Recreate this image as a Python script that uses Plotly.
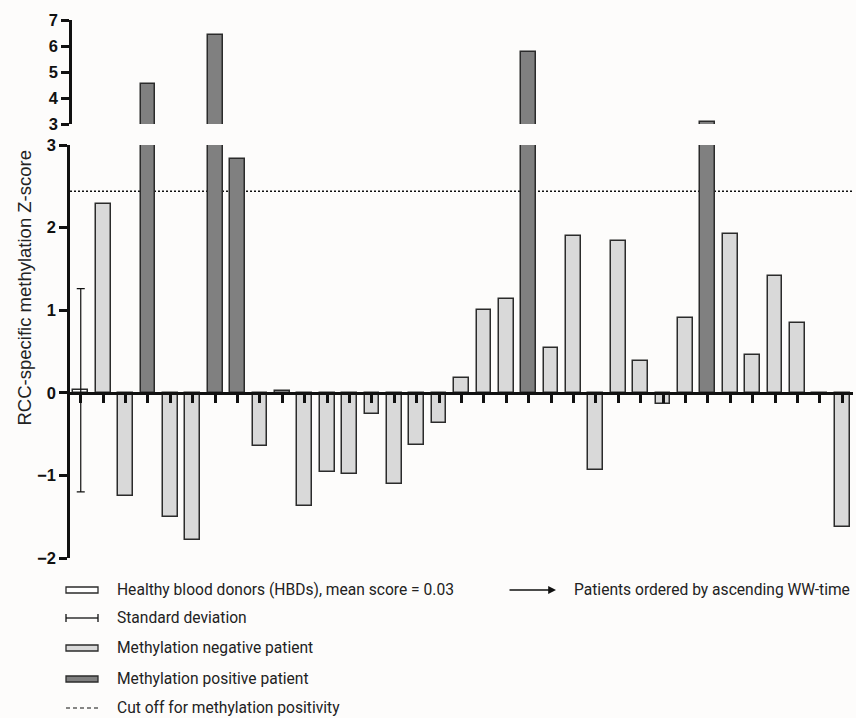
import plotly.graph_objects as go

# ---------------- data ----------------
hbd_mean = [0.03]
hbd_sd = [1.23]
patient_scores = [
    2.28, -1.25, 4.53, -1.50, -1.78, 6.42, 2.83, -0.64, 0.02, -1.37,
    -0.96, -0.98, -0.26, -1.10, -0.63, -0.37, 0.18, 1.00, 1.13, 5.78,
    0.54, 1.90, -0.94, 1.84, 0.38, -0.13, 0.90, 3.09, 1.92, 0.46,
    1.41, 0.85, -0.03, -1.62,
]
cutoff = 2.44
lower_ticks = [-2, -1, 0, 1, 2, 3]
lower_ticktext = ["\u22122", "\u22121", "0", "1", "2", "3"]
upper_ticks = [3, 4, 5, 6, 7]

# ---------------- styling / layout ----------------
W, H = 856, 718
ML, MR, MT, MB = 70, 3, 20, 160
PW, PH = W - ML - MR, H - MT - MB

def px_x(px):
    return (px - ML) / PW

def px_y(py):
    return (H - MB - py) / PH

LIGHT = "#d9d9d9"
DARK = "#808080"
EDGE = "#2b2b2b"
BG = "#fdfcfb"

lower_dom = [0, px_y(145)]
upper_dom = [px_y(124), 1]
lower_range = [-2, 3]
upper_range = [3, 7]

n_pat = len(patient_scores)
x_hbd = [0]
x_pat = list(range(1, n_pat + 1))
pat_colors = [DARK if v > cutoff else LIGHT for v in patient_scores]

bar_w = 0.66
fig = go.Figure()

for yax in ["y", "y2"]:
    fig.add_trace(go.Bar(
        x=x_pat, y=patient_scores, width=bar_w, yaxis=yax,
        marker=dict(color=pat_colors, line=dict(color=EDGE, width=1.5)),
        showlegend=False, hoverinfo="y",
    ))

fig.add_trace(go.Bar(
    x=x_hbd, y=hbd_mean, width=bar_w, yaxis="y",
    marker=dict(color="#ffffff", line=dict(color=EDGE, width=1.5)),
    error_y=dict(type="data", array=hbd_sd, symmetric=True,
                 color="#111111", thickness=1.2, width=4),
    showlegend=False, hoverinfo="y",
))

# zero-line x axis sits at y = 0 of the lower panel
zero_pos = lower_dom[0] + (lower_dom[1] - lower_dom[0]) * (0 - lower_range[0]) / (lower_range[1] - lower_range[0])

tickfont = dict(family="Liberation Sans, Arial", size=16.5, color="#111111", weight="bold")

fig.update_layout(
    width=W, height=H,
    margin=dict(l=ML, r=MR, t=MT, b=MB, pad=0),
    paper_bgcolor=BG, plot_bgcolor=BG,
    bargap=0,
    showlegend=False,
    xaxis=dict(
        range=[-0.48, n_pat + 0.48], domain=[0, 1],
        anchor="free", position=zero_pos,
        showline=True, linecolor="#111111", linewidth=2.5,
        ticks="outside", ticklen=8, tickwidth=2.5, tickcolor="#111111",
        tick0=0, dtick=1, showticklabels=False, showgrid=False, zeroline=False,
        automargin=False,
    ),
    yaxis=dict(
        domain=lower_dom, range=lower_range, anchor="x",
        tickvals=lower_ticks, ticktext=lower_ticktext,
        showline=True, linecolor="#111111", linewidth=2.5,
        ticks="outside", ticklen=8, tickwidth=2.5, tickcolor="#111111",
        tickfont=tickfont, showgrid=False, zeroline=False, automargin=False,
    ),
    yaxis2=dict(
        domain=upper_dom, range=upper_range, anchor="free", position=0,
        tickvals=upper_ticks,
        showline=True, linecolor="#111111", linewidth=2.5,
        ticks="outside", ticklen=8, tickwidth=2.5, tickcolor="#111111",
        tickfont=tickfont, showgrid=False, zeroline=False, automargin=False,
    ),
)

# cutoff line (dotted)
fig.add_shape(type="line", xref="paper", yref="y", x0=0, x1=1, y0=cutoff, y1=cutoff,
              line=dict(color="#111111", width=1.3, dash="2px,2px"), layer="below")

# y-axis title
fig.add_annotation(
    text="RCC-specific methylation Z-score", textangle=-90,
    xref="paper", yref="paper", x=px_x(23.5), y=px_y(288),
    showarrow=False, xanchor="center", yanchor="middle",
    font=dict(family="Liberation Sans, Arial", size=18.5, color="#222222"),
)

# ---------------- custom legend ----------------
LF = dict(family="Roboto, Liberation Sans", size=15.6, color="#222222")
ix0, ix1, tx = 66, 98, 115
rows = [
    ("Healthy blood donors (HBDs), mean score = 0.03", 590, "rect_white"),
    ("Standard deviation", 618, "sd"),
    ("Methylation negative patient", 648, "rect_light"),
    ("Methylation positive patient", 679, "rect_dark"),
    ("Cut off for methylation positivity", 708, "dash"),
]
for text, yc, kind in rows:
    fig.add_annotation(text=text, xref="paper", yref="paper", x=px_x(tx), y=px_y(yc),
                       xanchor="left", yanchor="middle", showarrow=False, font=LF)
    if kind.startswith("rect"):
        fill = {"rect_white": "#ffffff", "rect_light": LIGHT, "rect_dark": DARK}[kind]
        fig.add_shape(type="rect", xref="paper", yref="paper",
                      x0=px_x(ix0), x1=px_x(ix1), y0=px_y(yc + 3), y1=px_y(yc - 3),
                      fillcolor=fill, line=dict(color=EDGE, width=1.3))
    elif kind == "sd":
        fig.add_shape(type="line", xref="paper", yref="paper",
                      x0=px_x(ix0), x1=px_x(ix1), y0=px_y(yc), y1=px_y(yc),
                      line=dict(color="#111111", width=1.3))
        for xe in (ix0, ix1):
            fig.add_shape(type="line", xref="paper", yref="paper",
                          x0=px_x(xe), x1=px_x(xe), y0=px_y(yc - 4), y1=px_y(yc + 4),
                          line=dict(color="#111111", width=1.3))
    else:
        fig.add_shape(type="line", xref="paper", yref="paper",
                      x0=px_x(ix0), x1=px_x(ix1), y0=px_y(yc), y1=px_y(yc),
                      line=dict(color="#111111", width=1.2, dash="4px,3px"))

# arrow legend entry
fig.add_annotation(text="", xref="paper", yref="paper", x=px_x(556), y=px_y(590),
                   ax=-48, ay=0, axref="pixel", ayref="pixel",
                   showarrow=True, arrowhead=2, arrowsize=1.2, arrowwidth=1.3,
                   arrowcolor="#111111")
fig.add_annotation(text="Patients ordered by ascending WW-time", xref="paper", yref="paper",
                   x=px_x(572), y=px_y(590), xanchor="left", yanchor="middle",
                   showarrow=False, font=LF)

fig.write_html("out.html", config={"displayModeBar": False},
               post_script="document.body.style.margin='0';document.body.style.overflow='hidden';")
